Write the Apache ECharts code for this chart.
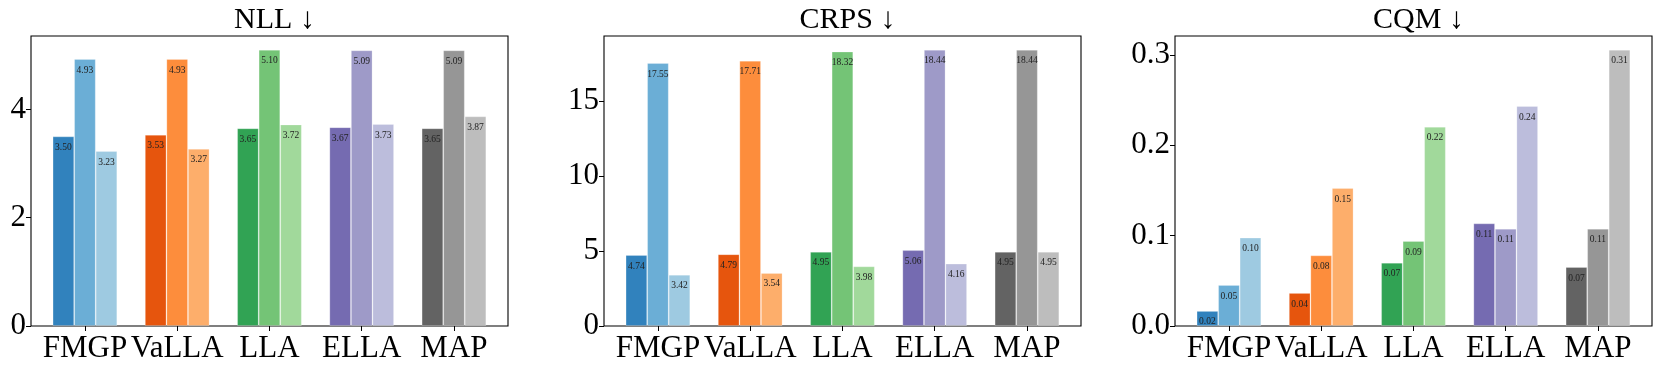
<!DOCTYPE html>
<html>
<head>
<meta charset="utf-8">
<script src="https://cdn.jsdelivr.net/npm/echarts@6/dist/echarts.min.js"></script>
<style>
    html, body { margin: 0; padding: 0; background: #fff; }
    #main { width: 1661px; height: 368px; }
</style>
</head>
<body>
<div id="main"></div>
<script>
// 数据
var methods = ['FMGP', 'VaLLA', 'LLA', 'ELLA', 'MAP'];
var titles = ['NLL \u2193', 'CRPS \u2193', 'CQM \u2193'];

// three bars per method (dark / mid / light)
var nllDark = [3.50, 3.53, 3.65, 3.67, 3.65];
var nllMid = [4.93, 4.93, 5.10, 5.09, 5.09];
var nllLight = [3.23, 3.27, 3.72, 3.73, 3.87];

var crpsDark = [4.74, 4.79, 4.95, 5.06, 4.95];
var crpsMid = [17.55, 17.71, 18.32, 18.44, 18.44];
var crpsLight = [3.42, 3.54, 3.98, 4.16, 4.95];

var cqmDark = [0.0166, 0.0365, 0.070, 0.1135, 0.0652];
var cqmMid = [0.0453, 0.0781, 0.094, 0.1076, 0.1076];
var cqmLight = [0.0977, 0.1526, 0.2204, 0.2433, 0.3056];

var nllTicks = [0, 2, 4];
var crpsTicks = [0, 5, 10, 15];
var cqmTicks = [0, 0.1, 0.2, 0.3];

var darkColors = ['#3182bd', '#e6550d', '#31a354', '#756bb1', '#636363'];
var midColors = ['#6baed6', '#fd8d3c', '#74c476', '#9e9ac8', '#969696'];
var lightColors = ['#9ecae1', '#fdae6b', '#a1d99b', '#bcbddc', '#bdbdbd'];

var panels = [
    { title: titles[0], series: [nllDark, nllMid, nllLight], ticks: nllTicks, dec: 0 },
    { title: titles[1], series: [crpsDark, crpsMid, crpsLight], ticks: crpsTicks, dec: 0 },
    { title: titles[2], series: [cqmDark, cqmMid, cqmLight], ticks: cqmTicks, dec: 1 }
];

var font = '"Liberation Serif", "DejaVu Serif", serif';
var frameLeft = [31, 604, 1175];
var frameW = 477, frameTop = 36, frameH = 290;

var myChart = echarts.init(document.getElementById('main'), null, { renderer: 'canvas' });

var grid = [], xAxis = [], yAxis = [], series = [], title = [];

for (var p = 0; p < panels.length; p++) {
    var pn = panels[p];
    var all = pn.series[0].concat(pn.series[1], pn.series[2]);
    var ymax = Math.max.apply(null, all) * 1.05;
    var g = p * 2;

    // frame grid (axes box, y labels)
    grid.push({
        left: frameLeft[p], top: frameTop, width: frameW, height: frameH,
        show: true, borderColor: '#000', borderWidth: 1.1, backgroundColor: 'transparent'
    });
    // data grid (matplotlib margins on x)
    grid.push({
        left: frameLeft[p] + 7.8, top: frameTop, width: 461.3, height: frameH
    });

    xAxis.push({ gridIndex: g, type: 'value', min: 0, max: 1, show: false });
    xAxis.push({
        gridIndex: g + 1,
        type: 'category',
        data: methods,
        axisLine: { show: false },
        axisTick: { show: true, alignWithLabel: true, length: 5, lineStyle: { color: '#000', width: 1 } },
        axisLabel: { color: '#000', fontSize: 31, fontFamily: font, margin: 7, interval: 0 }
    });

    (function (dec) {
        yAxis.push({
            gridIndex: g, type: 'value', min: 0, max: ymax,
            splitLine: { show: false },
            axisLine: { show: false },
            axisTick: { show: true, length: 5, customValues: pn.ticks, lineStyle: { color: '#000', width: 1 } },
            axisLabel: {
                color: '#000', fontSize: 31, fontFamily: font, margin: 5,
                customValues: pn.ticks,
                formatter: function (v) { return v.toFixed(dec); }
            }
        });
    })(pn.dec);
    yAxis.push({ gridIndex: g + 1, type: 'value', min: 0, max: ymax, show: false });

    title.push({
        text: pn.title,
        left: frameLeft[p] + frameW / 2,
        top: 0,
        textAlign: 'center',
        textStyle: { color: '#000', fontSize: 30, fontWeight: 'normal', fontFamily: font }
    });

    var palettes = [darkColors, midColors, lightColors];
    for (var s = 0; s < 3; s++) {
        var vals = pn.series[s];
        var data = [];
        for (var i = 0; i < vals.length; i++) {
            data.push({ value: vals[i], itemStyle: { color: palettes[s][i] } });
        }
        series.push({
            type: 'bar',
            xAxisIndex: g + 1,
            yAxisIndex: g + 1,
            barWidth: '23.33%',
            barGap: '0%',
            data: data,
            itemStyle: { borderColor: 'rgba(255,255,255,0.3)', borderWidth: 0.8 },
            label: {
                show: true,
                position: 'insideTop',
                distance: 6,
                color: '#222',
                fontSize: 9.5,
                fontFamily: font,
                formatter: function (d) { return d.value.toFixed(2); }
            },
            emphasis: { disabled: true },
            animation: false
        });
    }
}

var option = {
    backgroundColor: '#fff',
    animation: false,
    title: title,
    grid: grid,
    xAxis: xAxis,
    yAxis: yAxis,
    series: series
};

myChart.setOption(option);

window.addEventListener('resize', function () {
    myChart.resize();
});
</script>
</body>
</html>
